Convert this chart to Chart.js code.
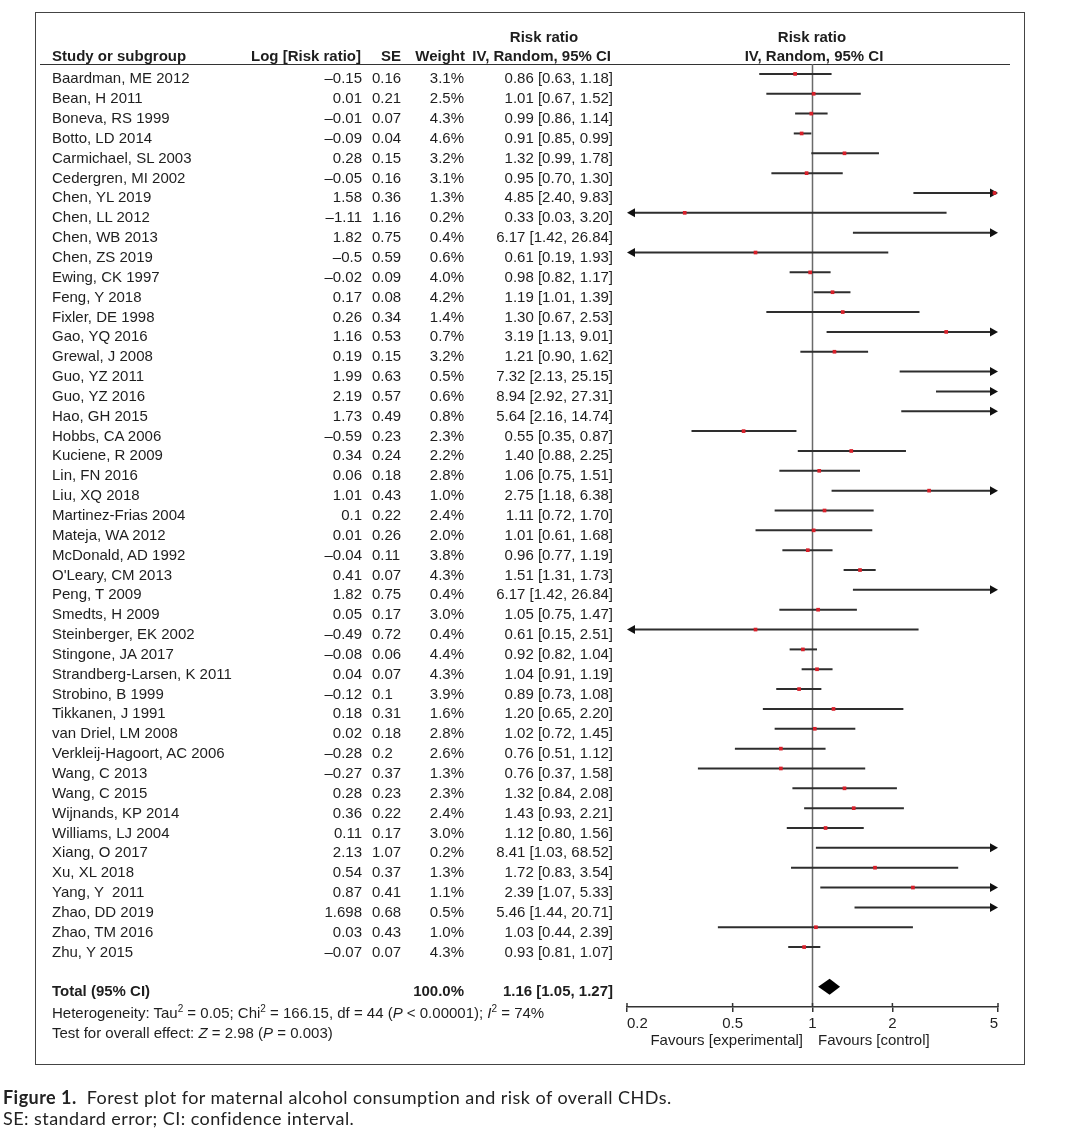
<!DOCTYPE html>
<html>
<head>
<meta charset="utf-8">
<script src="https://cdn.jsdelivr.net/npm/chart.js@4.4.1/dist/chart.umd.min.js"></script>
<style>
  body { margin: 0; background: #fff; width: 1080px; height: 1131px; position: relative; overflow: hidden;
         font-family: "Liberation Sans", Arial, sans-serif; color: #1e1e1e; }
  #frame { position: absolute; left: 35px; top: 12px; width: 990px; height: 1053px; border: 1.5px solid #444; box-sizing: border-box; }
  #hline { position: absolute; left: 40px; top: 64px; width: 970px; height: 0; border-top: 1.5px solid #333; }
  #plot { position: absolute; left: 0; top: 0; }
  .t { position: absolute; font-size: 15px; line-height: 18px; white-space: pre; }
  .b { font-weight: bold; }
  .s { font-size: 15px; }
  .s sup { font-size: 10px; line-height: 0; }
  .cap { position: absolute; left: 3px; font-family: Lato, "Open Sans", sans-serif; font-size: 18px; letter-spacing: 0.45px; line-height: 20px; color: #222; white-space: pre; }
</style>
</head>
<body>
<div id="frame"></div>
<div id="hline"></div>
<canvas id="plot" width="1080" height="1131"></canvas>
<div class="cap" style="top:1087px"><b>Figure 1.</b>  Forest plot for maternal alcohol consumption and risk of overall CHDs.</div>
<div class="cap" style="top:1108px">SE: standard error; CI: confidence interval.</div>
<script>
// 研究数据
const studies = ['Baardman, ME 2012', 'Bean, H 2011', 'Boneva, RS 1999', 'Botto, LD 2014', 'Carmichael, SL 2003',
    'Cedergren, MI 2002', 'Chen, YL 2019', 'Chen, LL 2012', 'Chen, WB 2013', 'Chen, ZS 2019', 'Ewing, CK 1997',
    'Feng, Y 2018', 'Fixler, DE 1998', 'Gao, YQ 2016', 'Grewal, J 2008', 'Guo, YZ 2011', 'Guo, YZ 2016',
    'Hao, GH 2015', 'Hobbs, CA 2006', 'Kuciene, R 2009', 'Lin, FN 2016', 'Liu, XQ 2018', 'Martinez-Frias 2004',
    'Mateja, WA 2012', 'McDonald, AD 1992', "O'Leary, CM 2013", 'Peng, T 2009', 'Smedts, H 2009',
    'Steinberger, EK 2002', 'Stingone, JA 2017', 'Strandberg-Larsen, K 2011', 'Strobino, B 1999',
    'Tikkanen, J 1991', 'van Driel, LM 2008', 'Verkleij-Hagoort, AC 2006', 'Wang, C 2013', 'Wang, C 2015',
    'Wijnands, KP 2014', 'Williams, LJ 2004', 'Xiang, O 2017', 'Xu, XL 2018', 'Yang, Y  2011', 'Zhao, DD 2019',
    'Zhao, TM 2016', 'Zhu, Y 2015'];
const logRR = [-0.15, 0.01, -0.01, -0.09, 0.28, -0.05, 1.58, -1.11, 1.82, -0.5, -0.02, 0.17, 0.26, 1.16, 0.19,
    1.99, 2.19, 1.73, -0.59, 0.34, 0.06, 1.01, 0.1, 0.01, -0.04, 0.41, 1.82, 0.05, -0.49, -0.08, 0.04, -0.12,
    0.18, 0.02, -0.28, -0.27, 0.28, 0.36, 0.11, 2.13, 0.54, 0.87, 1.698, 0.03, -0.07];
const se = [0.16, 0.21, 0.07, 0.04, 0.15, 0.16, 0.36, 1.16, 0.75, 0.59, 0.09, 0.08, 0.34, 0.53, 0.15, 0.63, 0.57,
    0.49, 0.23, 0.24, 0.18, 0.43, 0.22, 0.26, 0.11, 0.07, 0.75, 0.17, 0.72, 0.06, 0.07, 0.1, 0.31, 0.18, 0.2,
    0.37, 0.23, 0.22, 0.17, 1.07, 0.37, 0.41, 0.68, 0.43, 0.07];
const weight = [3.1, 2.5, 4.3, 4.6, 3.2, 3.1, 1.3, 0.2, 0.4, 0.6, 4.0, 4.2, 1.4, 0.7, 3.2, 0.5, 0.6, 0.8, 2.3,
    2.2, 2.8, 1.0, 2.4, 2.0, 3.8, 4.3, 0.4, 3.0, 0.4, 4.4, 4.3, 3.9, 1.6, 2.8, 2.6, 1.3, 2.3, 2.4, 3.0, 0.2,
    1.3, 1.1, 0.5, 1.0, 4.3];
const rr = [0.86, 1.01, 0.99, 0.91, 1.32, 0.95, 4.85, 0.33, 6.17, 0.61, 0.98, 1.19, 1.30, 3.19, 1.21, 7.32, 8.94,
    5.64, 0.55, 1.40, 1.06, 2.75, 1.11, 1.01, 0.96, 1.51, 6.17, 1.05, 0.61, 0.92, 1.04, 0.89, 1.20, 1.02, 0.76,
    0.76, 1.32, 1.43, 1.12, 8.41, 1.72, 2.39, 5.46, 1.03, 0.93];
const ciLow = [0.63, 0.67, 0.86, 0.85, 0.99, 0.70, 2.40, 0.03, 1.42, 0.19, 0.82, 1.01, 0.67, 1.13, 0.90, 2.13,
    2.92, 2.16, 0.35, 0.88, 0.75, 1.18, 0.72, 0.61, 0.77, 1.31, 1.42, 0.75, 0.15, 0.82, 0.91, 0.73, 0.65, 0.72,
    0.51, 0.37, 0.84, 0.93, 0.80, 1.03, 0.83, 1.07, 1.44, 0.44, 0.81];
const ciHigh = [1.18, 1.52, 1.14, 0.99, 1.78, 1.30, 9.83, 3.20, 26.84, 1.93, 1.17, 1.39, 2.53, 9.01, 1.62, 25.15,
    27.31, 14.74, 0.87, 2.25, 1.51, 6.38, 1.70, 1.68, 1.19, 1.73, 26.84, 1.47, 2.51, 1.04, 1.19, 1.08, 2.20,
    1.45, 1.12, 1.58, 2.08, 2.21, 1.56, 68.52, 3.54, 5.33, 20.71, 2.39, 1.07];

// 合并结果
const totalRR = 1.16, totalLow = 1.05, totalHigh = 1.27, totalWeight = 100.0;
const totalRow = 46;
const tickValues = [0.2, 0.5, 1, 2, 5];
const xMin = 0.2, xMax = 5;

const fmtLog = v => (v < 0 ? '\u2013' + String(-v) : String(v));
const fmtCI = (e, l, h) => e.toFixed(2) + ' [' + l.toFixed(2) + ', ' + h.toFixed(2) + ']';

// 画箭头
function arrowHead(ctx, x, y, dir) {
    ctx.beginPath();
    ctx.moveTo(x, y);
    ctx.lineTo(x - dir * 8, y - 4.5);
    ctx.lineTo(x - dir * 8, y + 4.5);
    ctx.closePath();
    ctx.fill();
}

const forestPlugin = {
    id: 'forest',
    beforeDatasetsDraw(chart) {
        const { ctx, chartArea, scales: { x, y } } = chart;
        ctx.save();
        // 无效线 (RR = 1)
        const x1 = x.getPixelForValue(1);
        ctx.strokeStyle = '#6a6a6a';
        ctx.lineWidth = 1.5;
        ctx.beginPath();
        ctx.moveTo(x1, chartArea.top);
        ctx.lineTo(x1, chartArea.bottom);
        ctx.stroke();

        // 置信区间
        ctx.strokeStyle = '#2e2e2e';
        ctx.fillStyle = '#111';
        ctx.lineWidth = 2;
        ciLow.forEach((lo, i) => {
            const hi = ciHigh[i];
            const py = y.getPixelForValue(i);
            const a = x.getPixelForValue(Math.max(lo, xMin));
            const b = x.getPixelForValue(Math.min(hi, xMax));
            ctx.beginPath();
            ctx.moveTo(a + (lo < xMin ? 3 : 0), py);
            ctx.lineTo(b - (hi > xMax ? 3 : 0), py);
            ctx.stroke();
            if (lo < xMin) arrowHead(ctx, a, py, -1);
            if (hi > xMax) arrowHead(ctx, b, py, 1);
        });
        ctx.restore();
    },
    afterDatasetsDraw(chart) {
        const { ctx, scales: { x, y } } = chart;
        ctx.save();
        // 合并效应菱形
        const py = y.getPixelForValue(totalRow);
        ctx.fillStyle = '#000';
        ctx.beginPath();
        ctx.moveTo(x.getPixelForValue(totalLow), py);
        ctx.lineTo(x.getPixelForValue(totalRR), py - 8);
        ctx.lineTo(x.getPixelForValue(totalHigh), py);
        ctx.lineTo(x.getPixelForValue(totalRR), py + 8);
        ctx.closePath();
        ctx.fill();

        // 坐标轴刻度向上部分
        ctx.strokeStyle = '#333';
        ctx.lineWidth = 1.5;
        tickValues.forEach(v => {
            const px = x.getPixelForValue(v);
            ctx.beginPath();
            ctx.moveTo(px, chart.chartArea.bottom);
            ctx.lineTo(px, chart.chartArea.bottom - 4);
            ctx.stroke();
        });
        ctx.restore();
    }
};

const points = rr.map((v, i) => ({ x: v, y: i })).filter(p => p.x <= xMax && p.x >= xMin);

const chart = new Chart(document.getElementById('plot'), {
    type: 'scatter',
    data: {
        datasets: [{
            data: points,
            pointStyle: 'rect',
            pointRadius: 2.6,
            pointBorderWidth: 0,
            backgroundColor: '#d8202a',
            borderColor: '#d8202a'
        }]
    },
    options: {
        responsive: false,
        animation: false,
        devicePixelRatio: 1,
        layout: { padding: { left: 627, right: 82, top: 64, bottom: 94 } },
        plugins: { legend: { display: false }, tooltip: { enabled: false } },
        scales: {
            x: {
                type: 'logarithmic',
                min: xMin,
                max: xMax,
                afterBuildTicks: s => { s.ticks = tickValues.map(v => ({ value: v })); },
                afterFit: s => { s.height = 30; },
                ticks: {
                    align: 'inner',
                    autoSkip: false,
                    maxRotation: 0,
                    padding: 3,
                    color: '#222',
                    font: { family: 'Liberation Sans', size: 15 },
                    callback: v => String(v)
                },
                grid: { drawOnChartArea: false, drawTicks: true, tickLength: 5, color: '#333', lineWidth: 1.5 },
                border: { display: true, color: '#333', width: 1.5 }
            },
            y: {
                type: 'linear',
                display: false,
                reverse: true,
                min: -0.5,
                max: 47.02
            }
        }
    },
    plugins: [forestPlugin]
});

// 左侧表格文字
function addText(html, x, yc, align, cls) {
    const d = document.createElement('div');
    d.className = 't ' + (cls || '');
    d.innerHTML = html;
    d.style.top = (yc - 9) + 'px';
    if (align === 'right') d.style.right = (1080 - x) + 'px';
    else if (align === 'center') { d.style.left = (x - 200) + 'px'; d.style.width = '400px'; d.style.textAlign = 'center'; }
    else d.style.left = x + 'px';
    document.body.appendChild(d);
}

// 表头
addText('Study or subgroup', 52, 56, 'left', 'b');
addText('Log [Risk ratio]', 361, 56, 'right', 'b');
addText('SE', 401, 56, 'right', 'b');
addText('Weight', 465, 56, 'right', 'b');
addText('Risk ratio', 544, 37, 'center', 'b');
addText('IV, Random, 95% CI', 611, 56, 'right', 'b');
addText('Risk ratio', 812, 37, 'center', 'b');
addText('IV, Random, 95% CI', 814, 56, 'center', 'b');

const ys = chart.scales.y;
studies.forEach((name, i) => {
    const yc = ys.getPixelForValue(i) + 4.5;
    addText(name, 52, yc, 'left');
    addText(fmtLog(logRR[i]), 362, yc, 'right');
    addText(String(se[i]), 372, yc, 'left');
    addText(weight[i].toFixed(1) + '%', 464, yc, 'right');
    addText(fmtCI(rr[i], ciLow[i], ciHigh[i]), 613, yc, 'right');
});

const yt = ys.getPixelForValue(totalRow) + 4.5;
addText('Total (95% CI)', 52, yt, 'left', 'b');
addText(totalWeight.toFixed(1) + '%', 464, yt, 'right', 'b');
addText(fmtCI(totalRR, totalLow, totalHigh), 613, yt, 'right', 'b');
addText('Heterogeneity: Tau<sup>2</sup> = 0.05; Chi<sup>2</sup> = 166.15, df = 44 (<i>P</i> &lt; 0.00001); <i>I</i><sup>2</sup> = 74%', 52, yt + 22, 'left', 's');
addText('Test for overall effect: <i>Z</i> = 2.98 (<i>P</i> = 0.003)', 52, yt + 42, 'left', 's');

addText('Favours [experimental]', 803, 1040, 'right', 's');
addText('Favours [control]', 818, 1040, 'left', 's');
</script>
</body>
</html>
